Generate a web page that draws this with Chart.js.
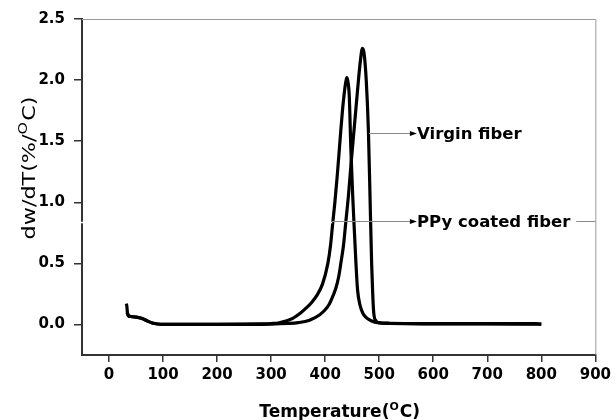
<!DOCTYPE html>
<html>
<head>
<meta charset="utf-8">
<script src="https://cdn.jsdelivr.net/npm/chart.js@4.4.1/dist/chart.umd.min.js"></script>
<style>
  html, body { margin: 0; padding: 0; background: #fff; }
  canvas { display: block; }
</style>
</head>
<body>
<canvas id="c" width="615" height="420"></canvas>
<script>
// ---- Data ----
const xTickValues = [0, 100, 200, 300, 400, 500, 600, 700, 800, 900];
const xTickLabels = ['0', '100', '200', '300', '400', '500', '600', '700', '800', '900'];
const yTickValues = [0, 0.5, 1.0, 1.5, 2.0, 2.5];
const yTickLabels = ['0.0', '0.5', '1.0', '1.5', '2.0', '2.5'];

const tempPPy = [33,34,36,40,50,60,70,80,90,100,150,200,250,280,300,313,325,340,355,365,375,385,395,405,410,414,418,422,426,429,432,435,438,440,442,444.5,447.6,451,454,457,460,465,470,475,485,500,520,600,700,800];
const dtgPPy  = [0.10,0.09,0.07,0.065,0.06,0.05,0.03,0.012,0.004,0.001,0,0,0.002,0.005,0.008,0.012,0.025,0.05,0.095,0.135,0.18,0.24,0.33,0.5,0.65,0.83,1.0,1.2,1.42,1.59,1.75,1.88,1.98,2.02,1.99,1.88,1.43,1.05,0.77,0.5,0.28,0.15,0.09,0.06,0.03,0.012,0.008,0.005,0.004,0.002];

const tempVirgin = [32,33,34,36,40,50,60,70,80,90,100,150,200,250,300,330,350,371,390,400,408,415,420,425,429,434,438,443,448,452,456,460,465,469,472,476,480,483,486,488,490,494,500,520,600,700,790,800];
const dtgVirgin  = [0.17,0.15,0.10,0.075,0.065,0.06,0.05,0.03,0.012,0.004,0.001,0,0,0.001,0.003,0.008,0.015,0.035,0.08,0.12,0.17,0.24,0.3,0.39,0.5,0.65,0.83,1.05,1.32,1.52,1.72,1.92,2.15,2.26,2.22,2.0,1.59,1.05,0.5,0.25,0.09,0.03,0.015,0.01,0.007,0.006,0.006,0.002];

const seriesNames = ['PPy coated fiber', 'Virgin fiber'];
// annotation pointers: label, y-value, start x (on curve), arrow end x, text x
const annLabels = ['Virgin fiber', 'PPy coated fiber'];
const annY      = [1.57, 0.85];
const annFromX  = [481, 413];
const annToX    = [566, 566];
const annTextX  = [570, 570];

const xTitleMain = ['Temperature(', 'O', 'C)'];
const yTitleMain = ['dw/dT(%/', 'O', 'C)'];

// ---- Build ----
function pts(xs, ys) { return xs.map((x, i) => ({ x: x, y: ys[i] })); }

const FONT = 'DejaVu Sans';

const decorPlugin = {
  id: 'decor',
  afterDraw(chart) {
    const ctx = chart.ctx;
    const ca = chart.chartArea;
    const xs = chart.scales.x, ys = chart.scales.y;
    ctx.save();
    // top and right frame (thin gray)
    ctx.strokeStyle = '#9a9a9a';
    ctx.lineWidth = 1;
    ctx.beginPath();
    ctx.moveTo(ca.left, ca.top + 0.5);
    ctx.lineTo(ca.right + 0.5, ca.top + 0.5);
    ctx.lineTo(ca.right + 0.5, ca.bottom);
    ctx.stroke();

    // annotations
    const annFont = 'bold 16.5px "' + FONT + '"';
    for (let i = 0; i < annLabels.length; i++) {
      const py = Math.round(ys.getPixelForValue(annY[i])) + 0.5;
      const x0 = xs.getPixelForValue(annFromX[i]);
      const x1 = xs.getPixelForValue(annToX[i]);
      const xt = xs.getPixelForValue(annTextX[i]);
      ctx.font = annFont;
      const tw = ctx.measureText(annLabels[i]).width;
      if (i === 1) {
        // white scan cut across the left part
        ctx.strokeStyle = '#ffffff';
        ctx.lineWidth = 1.5;
        ctx.beginPath();
        ctx.moveTo(0, py + 1);
        ctx.lineTo(x0, py + 1);
        ctx.stroke();
      }
      ctx.strokeStyle = '#8a8a8a';
      ctx.lineWidth = 1;
      ctx.beginPath();
      ctx.moveTo(x0, py);
      ctx.lineTo(x1 - 4, py);
      ctx.stroke();
      if (i === 1) {
        ctx.beginPath();
        ctx.moveTo(xt + tw + 6, py);
        ctx.lineTo(ca.right, py);
        ctx.stroke();
      }
      ctx.fillStyle = '#000';
      ctx.beginPath();
      ctx.moveTo(x1 + 2, py);
      ctx.lineTo(x1 - 5, py - 2.5);
      ctx.lineTo(x1 - 5, py + 2.5);
      ctx.closePath();
      ctx.fill();
      ctx.textBaseline = 'middle';
      ctx.textAlign = 'left';
      ctx.fillText(annLabels[i], xt, py + 1);
    }

    // X title with superscript
    {
      const big = 'bold 17px "' + FONT + '"';
      const sup = 'bold 11px "' + FONT + '"';
      ctx.font = big; const w1 = ctx.measureText(xTitleMain[0]).width;
      const w3 = ctx.measureText(xTitleMain[2]).width;
      ctx.font = sup; const w2 = ctx.measureText(xTitleMain[1]).width + 1;
      const total = w1 + w2 + w3;
      let x = (ca.left + ca.right) / 2 - total / 2 + 1;
      const base = 417;
      ctx.textAlign = 'left';
      ctx.textBaseline = 'alphabetic';
      ctx.font = big; ctx.fillText(xTitleMain[0], x, base); x += w1;
      ctx.font = sup; ctx.fillText(xTitleMain[1], x, base - 7); x += w2;
      ctx.font = big; ctx.fillText(xTitleMain[2], x, base);
    }

    // Y title with superscript, rotated
    {
      const big = '17px "' + FONT + '"';
      const sup = '12px "' + FONT + '"';
      ctx.font = big; const w1 = ctx.measureText(yTitleMain[0]).width;
      const w3 = ctx.measureText(yTitleMain[2]).width;
      ctx.font = sup; const w2 = ctx.measureText(yTitleMain[1]).width + 1;
      const total = w1 + w2 + w3;
      const target = 143;
      const sx = target / total;
      ctx.translate(35, 168);
      ctx.rotate(-Math.PI / 2);
      ctx.scale(sx, 1);
      let x = -total / 2;
      ctx.textAlign = 'left';
      ctx.textBaseline = 'alphabetic';
      ctx.font = big; ctx.fillText(yTitleMain[0], x, 0); x += w1;
      ctx.font = sup; ctx.fillText(yTitleMain[1], x, -8); x += w2;
      ctx.font = big; ctx.fillText(yTitleMain[2], x, 0);
    }
    ctx.restore();
  }
};

const tickFont = { family: FONT, size: 15, weight: 'bold' };

new Chart(document.getElementById('c'), {
  type: 'line',
  data: {
    datasets: [
      { label: seriesNames[0], data: pts(tempPPy, dtgPPy), borderColor: '#000', borderWidth: 3.2, pointRadius: 0, fill: false, cubicInterpolationMode: 'monotone' },
      { label: seriesNames[1], data: pts(tempVirgin, dtgVirgin), borderColor: '#000', borderWidth: 3.2, pointRadius: 0, fill: false, cubicInterpolationMode: 'monotone' }
    ]
  },
  options: {
    responsive: false,
    animation: false,
    devicePixelRatio: 1,
    layout: { padding: { top: 19, right: 17, left: 0, bottom: 0 } },
    plugins: { legend: { display: false }, tooltip: { enabled: false } },
    scales: {
      x: {
        type: 'linear',
        min: -50, max: 900,
        afterBuildTicks: (s) => { s.ticks = xTickValues.map(v => ({ value: v })); },
        afterFit: (s) => { s.height = 65; },
        ticks: { font: tickFont, color: '#000', padding: 4, maxRotation: 0, autoSkip: false,
                 callback: (v, i) => xTickLabels[i] },
        grid: { drawOnChartArea: false, drawTicks: true, tickLength: 7, color: '#333', lineWidth: 1.5 },
        border: { display: true, color: '#333', width: 2 }
      },
      y: {
        type: 'linear',
        min: -0.25, max: 2.5,
        afterBuildTicks: (s) => { s.ticks = yTickValues.map(v => ({ value: v })); },
        afterFit: (s) => { s.width = 82; },
        ticks: { font: tickFont, color: '#000', padding: 9, autoSkip: false,
                 callback: (v, i) => yTickLabels[i] },
        grid: { drawOnChartArea: false, drawTicks: true, tickLength: 8, color: '#333', lineWidth: 1.5 },
        border: { display: true, color: '#333', width: 2 }
      }
    }
  },
  plugins: [decorPlugin]
});
</script>
</body>
</html>
